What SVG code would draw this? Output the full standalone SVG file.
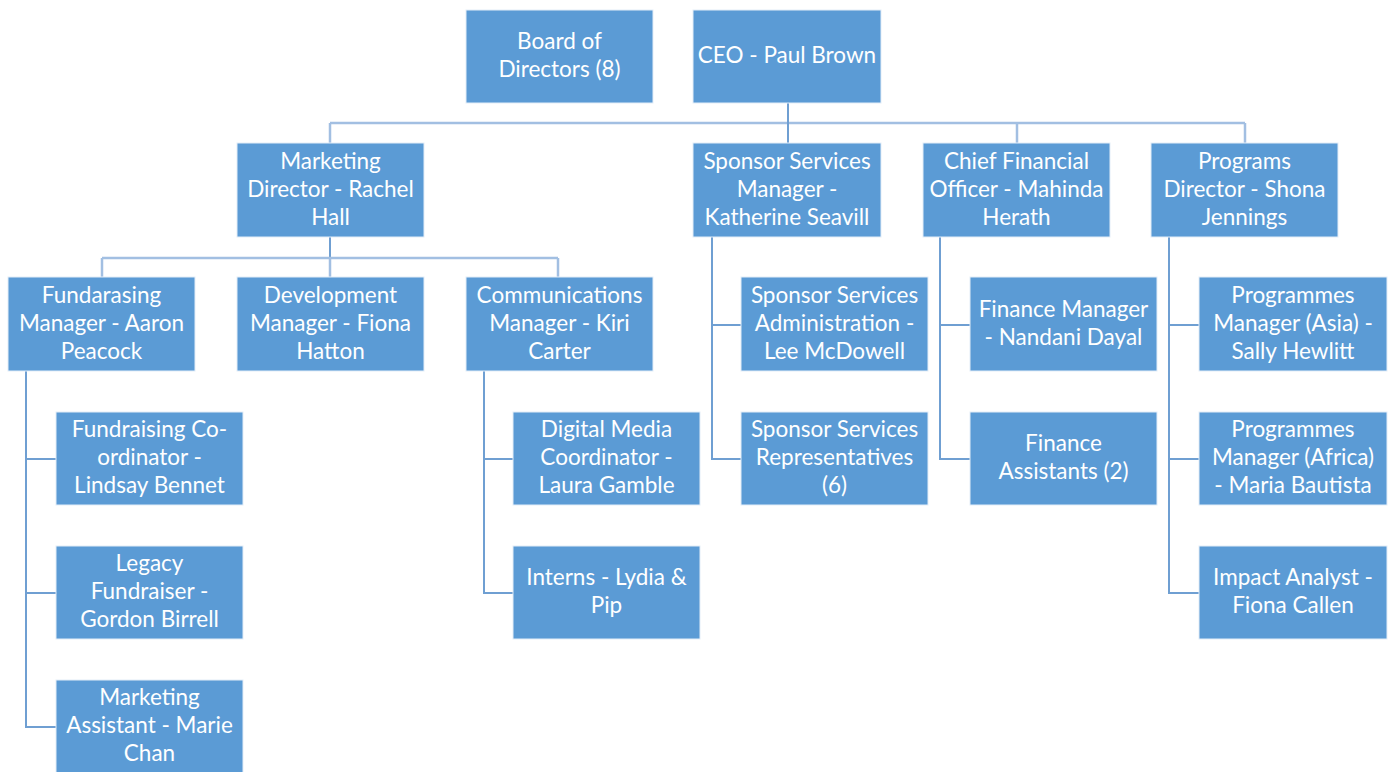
<svg xmlns="http://www.w3.org/2000/svg" width="1389" height="772" viewBox="0 0 1389 772">
  <style>
    .box { fill: #5b9bd5; stroke: #e3edf8; stroke-width: 1; }
    .lbl { fill: #ffffff; font-family: Lato, "Open Sans", "Liberation Sans", sans-serif; font-size: 22.5px; text-anchor: middle; }
    .ln { fill: none; stroke: #6f9fd2; stroke-width: 2; }
    .top { fill: none; stroke: #a2bfe2; stroke-width: 2.5; }
  </style>
  <rect width="1389" height="772" fill="#ffffff"/>

  <g id="connectors">
    <path class="top" d="M330 123 H1245 M330 123 V143 M1017 123 V143 M1245 123 V143"/>
    <path class="ln" d="M788 103 V143" stroke="#5a8bc4"/>
    <path class="ln" d="M330 237 V258"/>
    <path class="top" d="M102 258 H558 M102 258 V277 M330 258 V277 M558 258 V277" stroke-width="2"/>
    <path class="ln" d="M26 371 V727 H56 M26 459 H56 M26 593 H56"/>
    <path class="ln" d="M484 371 V593 H513 M484 459 H513"/>
    <path class="ln" d="M712 237 V459 H741 M712 325 H741"/>
    <path class="ln" d="M940 237 V459 H970 M940 325 H970"/>
    <path class="ln" d="M1169 237 V593 H1199 M1169 325 H1199 M1169 459 H1199"/>
  </g>

  <g id="board">
    <rect class="box" x="466" y="10" width="187" height="93"/>
    <text class="lbl" x="559.5"><tspan x="559.5" y="49">Board of</tspan><tspan x="559.5" y="77">Directors (8)</tspan></text>
  </g>
  <g id="ceo">
    <rect class="box" x="693" y="10" width="188" height="93"/>
    <text class="lbl" x="787" y="63">CEO - Paul Brown</text>
  </g>

  <g id="marketing-director">
    <rect class="box" x="237" y="143" width="187" height="94"/>
    <text class="lbl"><tspan x="330.5" y="169">Marketing</tspan><tspan x="330.5" y="197">Director - Rachel</tspan><tspan x="330.5" y="225">Hall</tspan></text>
  </g>
  <g id="sponsor-services-manager">
    <rect class="box" x="693" y="143" width="188" height="94"/>
    <text class="lbl"><tspan x="787" y="169">Sponsor Services</tspan><tspan x="787" y="197">Manager -</tspan><tspan x="787" y="225">Katherine Seavill</tspan></text>
  </g>
  <g id="cfo">
    <rect class="box" x="923" y="143" width="187" height="94"/>
    <text class="lbl"><tspan x="1016.5" y="169">Chief Financial</tspan><tspan x="1016.5" y="197">Officer - Mahinda</tspan><tspan x="1016.5" y="225">Herath</tspan></text>
  </g>
  <g id="programs-director">
    <rect class="box" x="1151" y="143" width="187" height="94"/>
    <text class="lbl"><tspan x="1244.5" y="169">Programs</tspan><tspan x="1244.5" y="197">Director - Shona</tspan><tspan x="1244.5" y="225">Jennings</tspan></text>
  </g>

  <g id="fundraising-manager">
    <rect class="box" x="8" y="277" width="187" height="94"/>
    <text class="lbl"><tspan x="101.5" y="303">Fundarasing</tspan><tspan x="101.5" y="331">Manager - Aaron</tspan><tspan x="101.5" y="359">Peacock</tspan></text>
  </g>
  <g id="development-manager">
    <rect class="box" x="237" y="277" width="187" height="94"/>
    <text class="lbl"><tspan x="330.5" y="303">Development</tspan><tspan x="330.5" y="331">Manager - Fiona</tspan><tspan x="330.5" y="359">Hatton</tspan></text>
  </g>
  <g id="communications-manager">
    <rect class="box" x="466" y="277" width="187" height="94"/>
    <text class="lbl"><tspan x="559.5" y="303">Communications</tspan><tspan x="559.5" y="331">Manager - Kiri</tspan><tspan x="559.5" y="359">Carter</tspan></text>
  </g>
  <g id="sponsor-services-admin">
    <rect class="box" x="741" y="277" width="187" height="94"/>
    <text class="lbl"><tspan x="834.5" y="303">Sponsor Services</tspan><tspan x="834.5" y="331">Administration -</tspan><tspan x="834.5" y="359">Lee McDowell</tspan></text>
  </g>
  <g id="finance-manager">
    <rect class="box" x="970" y="277" width="187" height="94"/>
    <text class="lbl"><tspan x="1063.5" y="317">Finance Manager</tspan><tspan x="1063.5" y="345">- Nandani Dayal</tspan></text>
  </g>
  <g id="programmes-manager-asia">
    <rect class="box" x="1199" y="277" width="188" height="94"/>
    <text class="lbl"><tspan x="1293" y="303">Programmes</tspan><tspan x="1293" y="331">Manager (Asia) -</tspan><tspan x="1293" y="359">Sally Hewlitt</tspan></text>
  </g>

  <g id="fundraising-coordinator">
    <rect class="box" x="56" y="412" width="187" height="93"/>
    <text class="lbl"><tspan x="149.5" y="437">Fundraising Co-</tspan><tspan x="149.5" y="465">ordinator -</tspan><tspan x="149.5" y="493">Lindsay Bennet</tspan></text>
  </g>
  <g id="digital-media-coordinator">
    <rect class="box" x="513" y="412" width="187" height="93"/>
    <text class="lbl"><tspan x="606.5" y="437">Digital Media</tspan><tspan x="606.5" y="465">Coordinator -</tspan><tspan x="606.5" y="493">Laura Gamble</tspan></text>
  </g>
  <g id="sponsor-services-reps">
    <rect class="box" x="741" y="412" width="187" height="93"/>
    <text class="lbl"><tspan x="834.5" y="437">Sponsor Services</tspan><tspan x="834.5" y="465">Representatives</tspan><tspan x="834.5" y="493">(6)</tspan></text>
  </g>
  <g id="finance-assistants">
    <rect class="box" x="970" y="412" width="187" height="93"/>
    <text class="lbl"><tspan x="1063.5" y="451">Finance</tspan><tspan x="1063.5" y="479">Assistants (2)</tspan></text>
  </g>
  <g id="programmes-manager-africa">
    <rect class="box" x="1199" y="412" width="188" height="93"/>
    <text class="lbl"><tspan x="1293" y="437">Programmes</tspan><tspan x="1293" y="465">Manager (Africa)</tspan><tspan x="1293" y="493">- Maria Bautista</tspan></text>
  </g>

  <g id="legacy-fundraiser">
    <rect class="box" x="56" y="546" width="187" height="93"/>
    <text class="lbl"><tspan x="149.5" y="571">Legacy</tspan><tspan x="149.5" y="599">Fundraiser -</tspan><tspan x="149.5" y="627">Gordon Birrell</tspan></text>
  </g>
  <g id="interns">
    <rect class="box" x="513" y="546" width="187" height="93"/>
    <text class="lbl"><tspan x="606.5" y="585">Interns - Lydia &amp;</tspan><tspan x="606.5" y="613">Pip</tspan></text>
  </g>
  <g id="impact-analyst">
    <rect class="box" x="1199" y="546" width="188" height="93"/>
    <text class="lbl"><tspan x="1293" y="585">Impact Analyst -</tspan><tspan x="1293" y="613">Fiona Callen</tspan></text>
  </g>

  <g id="marketing-assistant">
    <rect class="box" x="56" y="680" width="187" height="95"/>
    <text class="lbl"><tspan x="149.5" y="705">Marketing</tspan><tspan x="149.5" y="733">Assistant - Marie</tspan><tspan x="149.5" y="761">Chan</tspan></text>
  </g>
</svg>
